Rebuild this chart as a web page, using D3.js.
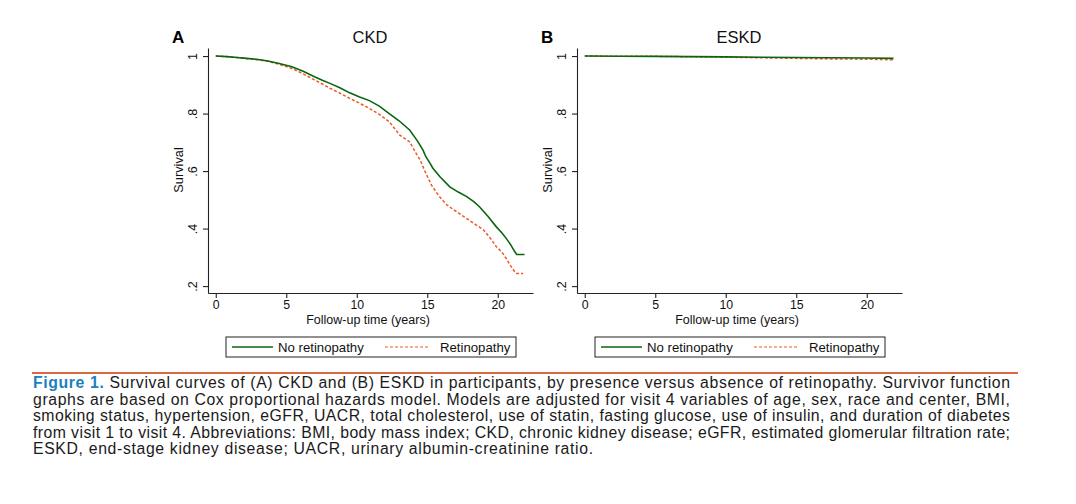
<!DOCTYPE html>
<html>
<head>
<meta charset="utf-8">
<script src="https://cdn.jsdelivr.net/npm/d3@7"></script>
<style>
  body { margin: 0; background: #fff; }
  svg { display: block; font-family: "Liberation Sans", Arial, Helvetica, sans-serif; }
</style>
</head>
<body>
<svg id="fig" width="1076" height="504"></svg>
<script>
// ---- data (follow-up years, survival) ----
var xTicks = [0, 5, 10, 15, 20];
var yTicks = [0.2, 0.4, 0.6, 0.8, 1];

var ckdNoTime  = [0, 0.8, 1.5, 2.2, 3.0, 3.7, 4.5, 5.4, 6.2, 7.0, 7.6, 8.1, 8.8, 9.5, 10.2, 10.9, 11.6, 12.3, 13.0, 13.75, 14.3, 14.7, 14.9, 15.2, 15.4, 15.9, 16.6, 17.2, 17.8, 18.3, 18.7, 19.3, 19.9, 20.3, 20.6, 20.9, 21.2, 21.35, 21.9];
var ckdNoSurv  = [1, 0.998, 0.995, 0.992, 0.988, 0.983, 0.974, 0.963, 0.947, 0.928, 0.915, 0.905, 0.89, 0.872, 0.858, 0.845, 0.826, 0.80, 0.775, 0.743, 0.705, 0.673, 0.65, 0.627, 0.61, 0.58, 0.545, 0.527, 0.511, 0.494, 0.476, 0.443, 0.406, 0.385, 0.366, 0.345, 0.32, 0.31, 0.31];
var ckdRetTime = [0, 0.8, 1.5, 2.2, 3.0, 3.7, 4.5, 5.4, 6.2, 7.0, 7.6, 8.1, 8.8, 9.5, 10.2, 10.9, 11.6, 12.3, 13.05, 13.75, 14.2, 14.5, 14.8, 15.3, 15.8, 16.4, 17.1, 17.8, 18.4, 19.0, 19.5, 19.9, 20.3, 20.6, 20.9, 21.2, 21.35, 21.8];
var ckdRetSurv = [1, 0.998, 0.995, 0.991, 0.987, 0.982, 0.971, 0.957, 0.938, 0.917, 0.902, 0.888, 0.871, 0.853, 0.836, 0.818, 0.797, 0.772, 0.725, 0.702, 0.662, 0.638, 0.603, 0.551, 0.515, 0.482, 0.458, 0.435, 0.415, 0.395, 0.365, 0.337, 0.318, 0.296, 0.272, 0.25, 0.244, 0.244];

var eskdNoTime  = [0, 2.5, 5, 7.5, 10, 12.5, 15, 17.5, 20, 21.9];
var eskdNoSurv  = [1, 0.9995, 0.999, 0.998, 0.997, 0.996, 0.995, 0.994, 0.993, 0.992];
var eskdRetTime = [0, 2.5, 5, 7.5, 10, 12.5, 15, 17.5, 20, 21.9];
var eskdRetSurv = [1, 0.9995, 0.999, 0.9975, 0.996, 0.994, 0.992, 0.990, 0.989, 0.987];

var legendLabels = ["No retinopathy", "Retinopathy"];

var captionLines = [
  "Survival curves of (A) CKD and (B) ESKD in participants, by presence versus absence of retinopathy. Survivor function",
  "graphs are based on Cox proportional hazards model. Models are adjusted for visit 4 variables of age, sex, race and center, BMI,",
  "smoking status, hypertension, eGFR, UACR, total cholesterol, use of statin, fasting glucose, use of insulin, and duration of diabetes",
  "from visit 1 to visit 4. Abbreviations: BMI, body mass index; CKD, chronic kidney disease; eGFR, estimated glomerular filtration rate;",
  "ESKD, end-stage kidney disease; UACR, urinary albumin-creatinine ratio."
];

var green = "#0b640f", orange = "#ec5a24";

var svg = d3.select("#fig");

function pairs(t, s) {
  return t.map(function(d, i) { return [d, s[i]]; });
}

function yFmt(d) {
  return d === 1 ? "1" : d3.format(".1f")(d).replace(/^0/, "");
}

function drawPanel(left, letter, title, noT, noS, retT, retS) {
  var x = d3.scaleLinear().domain([-0.55, 22.5]).range([left, left + 325]);
  var y = d3.scaleLinear().domain([0.176, 1.028]).range([293, 48]);

  // x axis
  var gx = svg.append("g").attr("transform", "translate(0,293)")
    .call(d3.axisBottom(x).tickValues(xTicks).tickSize(5).tickSizeOuter(0).tickPadding(2));
  gx.selectAll("text").attr("font-size", 12.3).attr("fill", "#111");

  // y axis, Stata style rotated labels
  var gy = svg.append("g").attr("transform", "translate(" + left + ",0)")
    .call(d3.axisLeft(y).tickValues(yTicks).tickFormat(yFmt).tickSize(5).tickSizeOuter(0));
  gy.selectAll("text")
    .attr("transform", "rotate(-90)")
    .attr("x", 0).attr("y", -11).attr("dy", 0)
    .attr("text-anchor", "middle")
    .attr("font-size", 12.5).attr("fill", "#111");

  svg.selectAll(".domain, .tick line").attr("stroke", "#222").attr("stroke-width", 1.1);

  svg.append("text")
    .attr("transform", "translate(" + (left - 25) + ",170) rotate(-90)")
    .attr("text-anchor", "middle").attr("font-size", 12.8).attr("fill", "#111")
    .text("Survival");

  svg.append("text")
    .attr("x", x(10.8)).attr("y", 324)
    .attr("text-anchor", "middle").attr("font-size", 12.5).attr("fill", "#111")
    .text("Follow-up time (years)");

  svg.append("text")
    .attr("x", left + 162).attr("y", 43)
    .attr("text-anchor", "middle").attr("font-size", 16.5).attr("fill", "#111")
    .text(title);

  svg.append("text")
    .attr("x", left - 36).attr("y", 43)
    .attr("font-size", 17).attr("font-weight", "bold").attr("fill", "#000")
    .text(letter);

  var line = d3.line()
    .x(function(d) { return x(d[0]); })
    .y(function(d) { return y(d[1]); });

  svg.append("path").datum(pairs(retT, retS))
    .attr("d", line).attr("fill", "none")
    .attr("stroke", orange).attr("stroke-width", 1.5)
    .attr("stroke-dasharray", "3,2");

  svg.append("path").datum(pairs(noT, noS))
    .attr("d", line).attr("fill", "none")
    .attr("stroke", green).attr("stroke-width", 1.6);

  // legend
  var lg = svg.append("g").attr("transform", "translate(" + (left + 18) + ",337)");
  lg.append("rect").attr("width", 290).attr("height", 20)
    .attr("fill", "#fff").attr("stroke", "#222").attr("stroke-width", 1);
  lg.append("line").attr("x1", 6).attr("x2", 47).attr("y1", 10).attr("y2", 10)
    .attr("stroke", green).attr("stroke-width", 1.3);
  lg.append("text").attr("x", 52).attr("y", 14.5).attr("font-size", 13.2).attr("fill", "#111")
    .text(legendLabels[0]);
  lg.append("line").attr("x1", 159).attr("x2", 204).attr("y1", 10).attr("y2", 10)
    .attr("stroke", orange).attr("stroke-width", 1.2).attr("stroke-dasharray", "3,2");
  lg.append("text").attr("x", 214).attr("y", 14.5).attr("font-size", 13.2).attr("fill", "#111")
    .text(legendLabels[1]);
}

drawPanel(208, "A", "CKD", ckdNoTime, ckdNoSurv, ckdRetTime, ckdRetSurv);
drawPanel(577, "B", "ESKD", eskdNoTime, eskdNoSurv, eskdRetTime, eskdRetSurv);

// caption
svg.append("line").attr("x1", 32).attr("x2", 1018).attr("y1", 373).attr("y2", 373)
  .attr("stroke", "#dc6a40").attr("stroke-width", 2);

var cap = svg.append("g").attr("font-size", 15.8).attr("fill", "#1a1a1a");
captionLines.forEach(function(txt, i) {
  var t = cap.append("text").attr("x", 33).attr("y", 388 + i * 16.6);
  if (i === 0) {
    t.append("tspan").attr("font-weight", "bold").attr("fill", "#1b7fc0").text("Figure 1. ");
  }
  t.append("tspan").text(txt);
  if (i < captionLines.length - 1) {
    t.attr("textLength", 977).attr("lengthAdjust", "spacing");
  } else {
    t.attr("letter-spacing", 0.65);
  }
});
</script>
</body>
</html>
